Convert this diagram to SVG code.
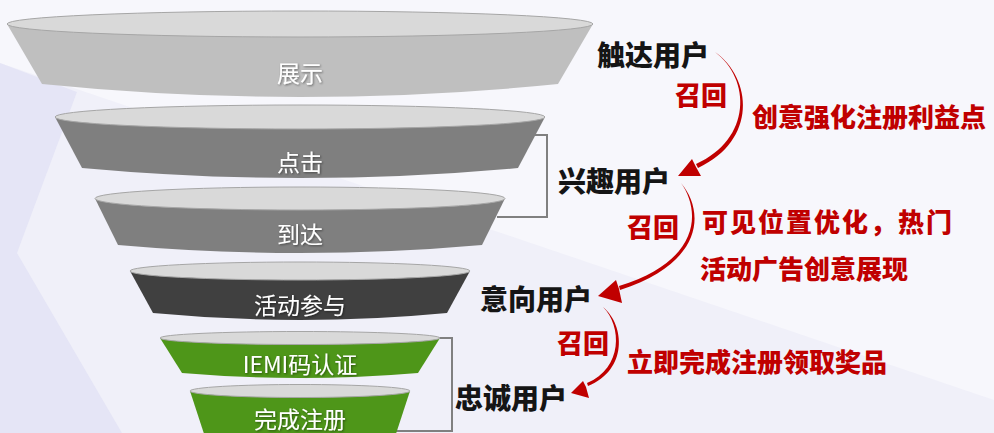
<svg xmlns="http://www.w3.org/2000/svg" width="994" height="433" viewBox="0 0 994 433">
<defs>
<style>
.top{fill:#d9d9d9;stroke:#a6a6a6;stroke-width:1}
.ft{font-family:"Noto Sans CJK SC","Noto Sans",sans-serif;font-size:23px;fill:#ffffff;text-anchor:middle;filter:url(#sh)}
.lbl{font-family:"Noto Sans CJK SC","Noto Sans",sans-serif;font-size:28px;font-weight:900;fill:#151515}
.red{font-family:"Noto Sans CJK SC","Noto Sans",sans-serif;font-size:26px;font-weight:900;fill:#c00000}
.br{fill:none;stroke:#808080;stroke-width:2}
.arc{fill:#c00000}
</style>
<filter id="sh" x="-20%" y="-20%" width="140%" height="140%">
<feDropShadow dx="1" dy="1" stdDeviation="0.8" flood-color="#000" flood-opacity="0.45"/>
</filter>
</defs>
<g id="background">
<rect width="994" height="433" fill="#f7f7fc"/>
<polygon points="0,63 994,400 994,433 0,433" fill="#f0f0f9"/>
<polygon points="0,63 77,92 17,253 122,433 0,433" fill="#e5e5f6"/>
</g>
<g id="connectors">
<polyline class="br" points="530,135 547,135 547,217 497,217"/>
<polyline class="br" points="436,338 452,338 452,431 396,431"/>
<path class="arc" d="M715,52 C752,78 758,140 698,168 L696,164 C752,139 751,79 715,52 Z"/>
<polygon class="arc" points="678,176 692,159 696,167 701,176"/>
<path class="arc" d="M681,183 C704,210 706,262 620,290 L619,286 C701,261 701,211 681,183 Z"/>
<polygon class="arc" points="598,296 616,280 619,289 622,303"/>
<path class="arc" d="M603,307 C625,325 628,370 588,386 L587,383 C623,368 622,326 603,307 Z"/>
<polygon class="arc" points="571,393 583,381 586,387 589,398"/>
</g>
<g id="f1">
<path d="M7,24 L42,84 Q300,110 558,84 L593,24 Z" fill="#bfbfbf"/>
<ellipse class="top" cx="300" cy="24" rx="293" ry="13"/>
<text class="ft" x="300" y="82">展示</text>
</g>
<g id="f2">
<path d="M55,117 L82,168 Q300,188 518,168 L545,117 Z" fill="#7f7f7f"/>
<ellipse class="top" cx="300" cy="117" rx="245" ry="12"/>
<text class="ft" x="300" y="171">点击</text>
</g>
<g id="f3">
<path d="M95,198.5 L118,245 Q300,261 482,245 L505,198.5 Z" fill="#7f7f7f"/>
<ellipse class="top" cx="300" cy="198.5" rx="205" ry="11.5"/>
<text class="ft" x="300" y="243">到达</text>
</g>
<g id="f4">
<path d="M130,271 L153,313 Q300,327 447,313 L470,271 Z" fill="#404040"/>
<ellipse class="top" cx="300" cy="271" rx="170" ry="9"/>
<text class="ft" x="300" y="314">活动参与</text>
</g>
<g id="f5">
<path d="M160,338 L182,373 Q300,383 418,373 L440,338 Z" fill="#4e9619"/>
<ellipse class="top" cx="300" cy="338" rx="140" ry="6.5"/>
<text class="ft" x="300" y="373">IEMI码认证</text>
</g>
<g id="f6">
<path d="M190,391 L208,446 Q300,456 392,446 L410,391 Z" fill="#4e9619"/>
<ellipse class="top" cx="300" cy="391" rx="110" ry="6.5"/>
<text class="ft" x="300" y="428">完成注册</text>
</g>
<g id="n-touch"><text class="lbl" x="597" y="66">触达用户</text></g>
<g id="n-interest"><text class="lbl" x="558" y="192">兴趣用户</text></g>
<g id="n-intent"><text class="lbl" x="480" y="310">意向用户</text></g>
<g id="n-loyal"><text class="lbl" x="455" y="409">忠诚用户</text></g>
<g id="labels">
<text class="red" x="675" y="105">召回</text>
<text class="red" x="752" y="126.5">创意强化注册利益点</text>
<text class="red" x="627" y="236.5">召回</text>
<text class="red" x="702" y="231.5" letter-spacing="2">可见位置优化，热门</text>
<text class="red" x="700" y="278.5">活动广告创意展现</text>
<text class="red" x="557" y="352.5">召回</text>
<text class="red" x="627" y="371.5">立即完成注册领取奖品</text>
</g>
</svg>
